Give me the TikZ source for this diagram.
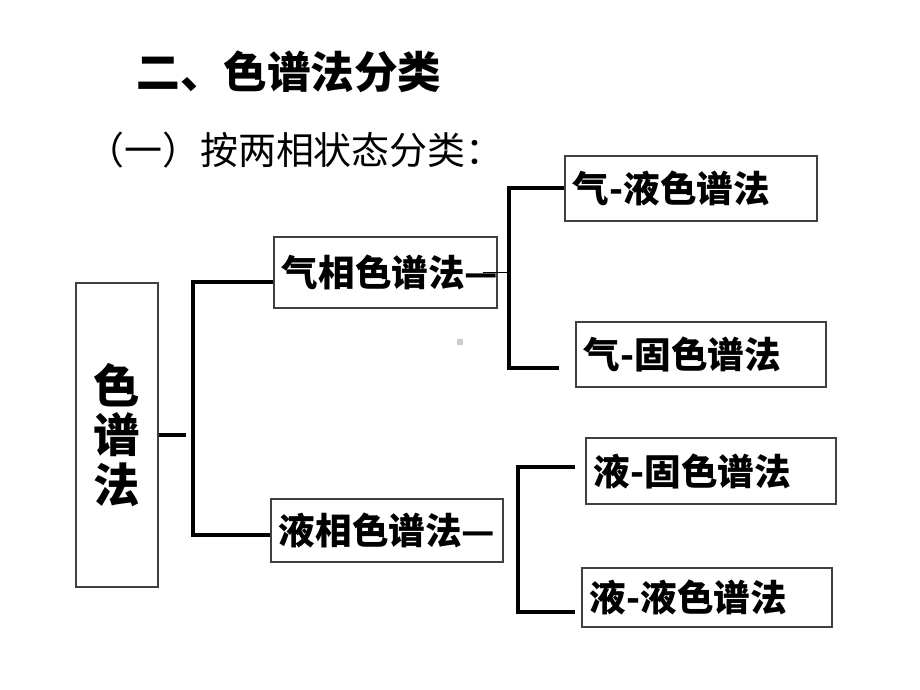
\documentclass[tikz,border=0pt]{standalone}
\usepackage{fontspec}
\setmainfont{Noto Sans CJK SC}
\usepackage{tikz}
\usetikzlibrary{positioning}

\begin{document}
\begin{tikzpicture}[x=0.025cm, y=-0.025cm,
  block/.style={draw=black!75, line width=0.8pt, rectangle, inner xsep=0.2cm, align=left, text width=#1, minimum height=1.625cm, font=\fontsize{26pt}{28pt}\selectfont\bfseries},
  bar/.style={line width=2.8pt},
  stub/.style={line width=2.2pt},
  wire/.style={line width=0.5pt}]
  \path [fill=white, use as bounding box] (0,0) rectangle (920,690);

  % Titles
  \node (title) at (289,72) {\fontsize{31pt}{33pt}\selectfont\bfseries 二、色谱法分类};
  \node (subtitle) at (295,150) {\fontsize{27pt}{29pt}\selectfont （一）按两相状态分类：};

  % Nodes
  \node [draw=black!75, line width=0.8pt, rectangle, minimum width=2.05cm, minimum height=7.6cm, align=center, font=\fontsize{33pt}{35pt}\selectfont\bfseries] (chrom) at (117,435) {色\\谱\\法};
  \node [block=5.175cm, minimum height=1.775cm] (gas) at (385.5,272.5) {\mbox{气相色谱法—}};
  \node [block=5.4cm, minimum height=1.575cm] (liq) at (387,530.5) {\mbox{液相色谱法—}};
  \node [block=5.9cm] (gl) at (691,188.5) {气-液色谱法};
  \node [block=5.85cm] (gs) at (701,354.5) {气-固色谱法};
  \node [block=5.85cm, minimum height=1.65cm] (ls) at (711,471) {液-固色谱法};
  \node [block=5.85cm, minimum height=1.475cm] (ll) at (707,597.5) {液-液色谱法};

  % Brackets
  \coordinate (b1t) at (193,282);
  \coordinate (b1b) at (193,535);
  \coordinate (b2t) at (509,188);
  \coordinate (b2b) at (509,368);
  \coordinate (b3t) at (518,467);
  \coordinate (b3b) at (518,612);

  % Lines
  \draw [stub, shorten >=0.175cm] (chrom.east) -- (chrom.east -| b1t);
  \draw [bar] (gas.west |- b1t) -- (b1t) -- (b1b) -- (liq.west |- b1b);
  \draw [wire, shorten <=-0.375cm] (gas.east) -- (gas.east -| b2t);
  \draw [bar, shorten >=0.4cm] (gl.west |- b2t) -- (b2t) -- (b2b) -- (gs.west |- b2b);
  \draw [bar, shorten <=0.25cm, shorten >=0.15cm] (ls.west |- b3t) -- (b3t) -- (b3b) -- (ll.west |- b3b);

  \fill [black!20] (457,339) rectangle (463,345);
\end{tikzpicture}
\end{document}
